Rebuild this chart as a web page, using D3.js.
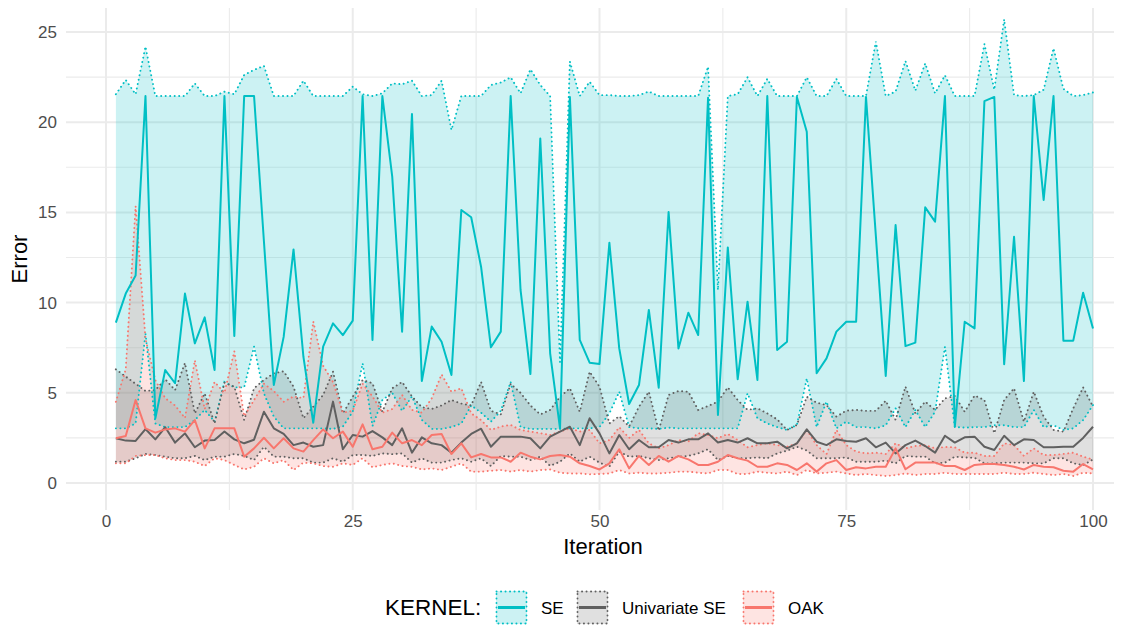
<!DOCTYPE html>
<html>
<head>
<meta charset="utf-8">
<script src="https://cdn.jsdelivr.net/npm/d3@7"></script>
<style>
  body { margin: 0; background: #fff; }
  text { font-family: "Liberation Sans", Arial, sans-serif; }
</style>
</head>
<body>
<script>
// iterations 1..100
var iterations = d3.range(1, 101);

// SE kernel
var seMean = [8.89,10.5,11.5,21.45,3.58,6.26,5.53,10.5,7.74,9.18,6.26,21.45,8.15,21.45,21.45,13.4,5.43,8.1,12.95,7.0,
  3.34,7.56,8.85,8.2,9.0,21.45,7.93,21.45,16.98,8.39,20.45,5.65,8.67,7.83,5.99,15.13,14.73,11.99,7.52,8.39,
  21.45,10.7,6.04,19.1,7.19,3.03,21.4,7.93,6.67,6.6,13.32,7.46,4.38,5.43,9.59,5.28,15.02,7.46,9.44,8.2,
  21.36,3.77,13.06,5.75,10.05,5.71,21.45,7.37,7.83,21.4,19.47,6.08,6.91,8.39,8.94,8.94,21.4,13.7,5.93,14.3,
  7.59,7.78,15.28,14.49,21.45,3.12,8.94,8.57,21.17,21.4,6.58,13.65,5.65,21.45,15.69,21.45,7.89,7.89,10.55,8.57];
var seLower = [3.03,3.03,3.3,8.3,3.3,3.1,3.1,3.1,3.49,4.05,3.4,5.6,5.3,5.3,7.56,4.97,3.68,3.03,3.03,3.03,
  3.03,3.03,3.0,3.13,3.95,6.63,3.16,4.6,5.0,4.0,4.8,3.5,3.0,3.0,3.1,3.3,4.3,3.9,3.4,4.0,
  5.6,3.1,3.0,3.0,3.0,3.0,3.03,3.03,3.03,3.1,3.86,5.06,3.1,3.03,3.03,3.0,3.07,3.03,3.03,3.03,
  3.03,3.03,3.03,3.03,4.97,3.59,3.3,3.1,2.94,3.22,5.8,3.1,4.51,3.03,3.4,3.1,3.1,3.03,3.2,4.14,
  3.1,4.05,3.1,3.95,7.55,3.1,3.07,3.1,3.1,3.2,3.2,3.1,3.1,4.05,3.1,3.2,2.94,3.03,3.49,4.32];
var seUpper = [21.55,22.34,21.55,24.19,21.45,21.45,21.45,21.45,22.15,21.45,21.45,21.69,21.55,22.62,22.9,23.12,21.45,21.45,21.45,22.3,
  21.45,21.45,21.45,21.45,21.97,21.55,21.45,21.6,22.15,22.1,22.3,21.45,21.5,22.3,19.57,21.45,21.45,21.45,22.06,22.2,
  22.49,21.6,22.93,22.06,21.45,6.7,23.36,21.45,22.24,21.5,21.5,21.45,21.45,21.5,21.7,21.45,21.45,21.45,21.45,21.45,
  23.08,10.7,21.45,21.55,22.49,21.45,22.4,21.45,21.45,21.45,22.49,21.45,21.45,22.4,21.45,21.45,21.45,24.47,21.45,21.7,
  23.39,21.75,23.26,21.6,22.6,21.45,21.45,21.45,24.33,21.8,25.7,21.5,21.45,21.5,21.8,24.1,21.85,21.45,21.5,21.65];

// Univariate SE kernel
var uniMean = [2.48,2.35,2.33,2.99,2.42,3.09,2.24,2.75,1.98,2.35,2.38,2.85,2.42,2.2,2.4,3.95,3.03,2.72,2.1,2.24,
  2.01,2.1,4.51,1.87,2.66,2.57,2.88,2.53,2.1,3.03,1.68,2.53,2.2,2.1,1.68,2.24,2.72,3.01,2.01,2.57,
  2.57,2.57,2.48,1.92,2.57,2.85,3.12,2.1,3.59,2.75,1.64,2.66,1.87,2.38,1.98,1.98,2.38,2.24,2.42,2.42,
  2.75,2.24,2.38,2.24,2.48,2.2,2.2,2.29,1.92,2.2,2.97,2.29,2.1,2.42,2.33,2.29,2.48,1.98,2.24,1.64,
  2.1,2.35,2.05,1.68,2.62,2.24,2.53,2.57,2.01,1.83,2.62,2.1,2.42,2.38,1.98,1.98,2.01,2.01,2.5,3.12];
var uniLower = [1.18,1.18,1.37,1.61,1.55,1.46,1.37,1.37,1.5,1.27,1.46,1.46,1.61,1.5,1.27,2.01,1.46,1.46,1.37,1.37,
  1.13,1.13,1.37,1.18,1.55,1.55,1.5,1.64,1.6,1.64,1.13,1.37,1.13,1.13,1.27,1.37,1.18,1.37,0.94,1.5,
  1.46,1.46,1.27,1.46,0.95,1.18,1.64,1.18,1.46,1.13,0.9,1.74,1.46,1.5,1.37,1.27,1.37,1.46,1.5,1.64,
  1.87,1.27,1.5,1.37,1.37,1.42,1.37,1.64,1.79,2.01,1.8,1.37,1.37,1.37,1.42,1.18,1.18,1.18,1.24,1.09,
  1.5,1.46,1.46,1.09,1.13,1.46,1.42,1.4,1.09,1.09,1.13,1.13,1.13,1.09,1.09,1.37,1.37,1.09,0.99,1.31];
var uniUpper = [6.3,5.9,5.5,5.1,5.15,5.75,5.15,6.65,3.86,4.97,3.3,5.56,5.34,3.49,5.25,5.71,6.08,6.19,5.34,3.59,
  4.23,4.88,6.17,3.86,4.78,5.71,5.53,3.95,5.25,5.6,4.8,4.2,4.1,4.3,4.6,4.4,4.3,5.6,4.0,3.8,
  5.5,5.0,4.3,3.8,4.05,4.78,5.25,3.95,6.17,5.34,3.3,3.7,3.13,4.23,5.06,2.9,4.88,5.1,5.06,4.05,
  4.27,4.51,5.3,4.6,4.05,4.14,3.86,3.53,2.94,3.22,4.78,4.45,4.32,3.68,4.01,4.05,4.0,4.0,4.56,3.5,
  5.34,3.86,4.51,4.05,4.69,4.82,3.95,4.85,4.6,2.76,4.6,5.25,3.4,5.06,3.68,2.94,2.85,4.14,5.3,4.23];

// OAK kernel
var oakMean = [2.48,2.6,4.6,3.03,2.79,2.97,3.03,2.85,3.49,1.92,3.03,3.03,3.03,1.46,1.92,2.51,1.92,2.48,1.92,1.74,
  2.38,2.97,2.48,2.85,2.01,3.25,1.87,2.01,2.79,2.2,2.38,2.1,2.66,2.72,1.61,2.2,1.42,1.61,1.42,1.42,
  1.18,1.68,1.46,1.31,1.5,1.55,1.46,1.09,0.94,0.75,1.09,1.87,0.81,1.5,1.0,1.5,1.18,1.5,1.31,1.0,
  1.0,1.18,1.55,1.37,1.24,0.9,0.9,1.09,1.0,0.72,1.09,0.63,1.09,1.27,0.72,0.87,0.81,0.9,0.9,1.92,
  0.76,1.13,1.13,1.13,0.94,0.94,0.72,1.0,1.05,1.05,1.0,0.9,0.75,1.0,0.9,0.87,0.68,0.63,1.05,0.76];
var oakLower = [1.09,1.09,1.5,1.55,1.55,1.37,1.27,1.27,1.18,0.94,1.37,1.27,1.0,0.75,0.9,1.37,1.09,1.27,0.72,1.13,
  1.09,0.94,0.9,1.09,1.0,1.37,0.87,1.0,1.09,0.94,0.9,0.75,0.81,0.72,0.9,1.09,0.63,0.63,0.68,0.72,
  0.63,0.72,0.63,0.72,0.75,0.57,0.53,0.53,0.48,0.5,0.53,0.72,0.53,0.57,0.53,0.53,0.57,0.63,0.63,0.57,
  0.53,0.72,0.72,0.5,0.5,0.63,0.57,0.53,0.63,0.44,0.72,0.53,0.57,0.63,0.53,0.44,0.5,0.44,0.39,0.44,
  0.53,0.44,0.5,0.5,0.57,0.5,0.5,0.5,0.5,0.5,0.57,0.5,0.5,0.57,0.5,0.44,0.5,0.39,0.57,0.53];
var oakUpper = [4.5,6.3,15.35,8.0,5.7,4.7,4.3,3.6,6.8,4.1,5.6,5.0,7.3,3.7,4.6,5.5,5.1,4.5,4.8,4.7,
  8.95,6.5,5.6,3.9,4.0,5.5,4.8,3.9,4.1,4.88,4.05,3.9,4.69,6.02,5.06,5.25,3.86,3.49,2.94,3.13,
  3.22,2.94,2.85,2.76,2.66,2.85,3.03,2.85,2.94,2.2,2.38,3.09,2.5,2.94,2.2,1.92,2.1,2.38,2.3,2.76,
  2.66,2.48,2.72,2.38,1.98,2.1,2.2,2.1,2.01,2.2,2.94,2.1,1.6,2.94,2.1,1.74,1.64,1.68,1.61,2.2,
  1.92,2.05,2.1,1.92,2.0,1.98,1.68,1.68,1.5,1.5,2.2,2.1,1.5,1.92,1.55,1.55,1.61,1.68,1.46,1.3];

var kernels = ["SE", "Univariate SE", "OAK"];
var yTicks = [0, 5, 10, 15, 20, 25];
var xTicks = [0, 25, 50, 75, 100];

var series = [
  {name: "SE", mean: seMean, lower: seLower, upper: seUpper, color: "#00BFC4", fill: "rgba(0,191,196,0.2)"},
  {name: "Univariate SE", mean: uniMean, lower: uniLower, upper: uniUpper, color: "#606060", fill: "rgba(102,102,102,0.2)"},
  {name: "OAK", mean: oakMean, lower: oakLower, upper: oakUpper, color: "#F8766D", fill: "rgba(248,118,109,0.2)"}
];

var width = 1137, height = 626;
var panel = {left: 66, right: 1114, top: 8, bottom: 510};

var svg = d3.select("body").append("svg")
  .attr("width", width).attr("height", height);
svg.append("rect").attr("width", width).attr("height", height).attr("fill", "#fff");

var x = d3.scaleLinear().domain([0, 100]).range([106, 1093]);
var y = d3.scaleLinear().domain([0, 25]).range([483, 32]);

// grid
var grid = svg.append("g");
[2.5, 7.5, 12.5, 17.5, 22.5].forEach(function (v) {
  grid.append("line").attr("x1", panel.left).attr("x2", panel.right)
    .attr("y1", y(v)).attr("y2", y(v)).attr("stroke", "#EBEBEB").attr("stroke-width", 1.1);
});
[12.5, 37.5, 62.5, 87.5].forEach(function (v) {
  grid.append("line").attr("y1", panel.top).attr("y2", panel.bottom)
    .attr("x1", x(v)).attr("x2", x(v)).attr("stroke", "#EBEBEB").attr("stroke-width", 1.1);
});
yTicks.forEach(function (v) {
  grid.append("line").attr("x1", panel.left).attr("x2", panel.right)
    .attr("y1", y(v)).attr("y2", y(v)).attr("stroke", "#EBEBEB").attr("stroke-width", 2);
});
xTicks.forEach(function (v) {
  grid.append("line").attr("y1", panel.top).attr("y2", panel.bottom)
    .attr("x1", x(v)).attr("x2", x(v)).attr("stroke", "#EBEBEB").attr("stroke-width", 2);
});

// ribbons
var area = function (s) {
  return d3.area()
    .x(function (d, i) { return x(iterations[i]); })
    .y0(function (d, i) { return y(s.lower[i]); })
    .y1(function (d, i) { return y(s.upper[i]); });
};
var edge = function (arr) {
  return d3.line()
    .x(function (d, i) { return x(iterations[i]); })
    .y(function (d) { return y(d); })(arr);
};

series.forEach(function (s) {
  svg.append("path").attr("d", area(s)(s.mean)).attr("fill", s.fill);
});
series.forEach(function (s) {
  [s.upper, s.lower].forEach(function (arr) {
    svg.append("path").attr("d", edge(arr))
      .attr("fill", "none").attr("stroke", s.color)
      .attr("stroke-width", 1.9)
      .attr("stroke-linecap", "round")
      .attr("stroke-dasharray", "0.1,4.4");
  });
});
series.forEach(function (s) {
  svg.append("path").attr("d", edge(s.mean))
    .attr("fill", "none").attr("stroke", s.color)
    .attr("stroke-width", 2).attr("stroke-linejoin", "round");
});

// axes
var yAxis = svg.append("g")
  .attr("transform", "translate(" + panel.left + ",0)")
  .call(d3.axisLeft(y).tickValues(yTicks).tickSize(0).tickPadding(9));
yAxis.select(".domain").remove();
yAxis.selectAll("text").attr("font-size", 17).attr("fill", "#4D4D4D")
  .attr("font-family", "Liberation Sans, Arial, sans-serif");

var xAxis = svg.append("g")
  .attr("transform", "translate(0," + panel.bottom + ")")
  .call(d3.axisBottom(x).tickValues(xTicks).tickSize(0).tickPadding(5));
xAxis.select(".domain").remove();
xAxis.selectAll("text").attr("font-size", 17).attr("fill", "#4D4D4D")
  .attr("font-family", "Liberation Sans, Arial, sans-serif");

svg.append("text").attr("x", 603).attr("y", 554)
  .attr("text-anchor", "middle").attr("font-size", 22).attr("fill", "#000")
  .text("Iteration");
svg.append("text").attr("transform", "translate(27," + ((panel.top + panel.bottom) / 2) + ") rotate(-90)")
  .attr("text-anchor", "middle").attr("font-size", 22).attr("fill", "#000")
  .text("Error");

// legend
var legend = svg.append("g");
legend.append("text").attr("x", 385).attr("y", 615).attr("font-size", 22.5)
  .attr("fill", "#000").text("KERNEL:");
var keyX = [496, 577, 743];
series.forEach(function (s, i) {
  var g = legend.append("g").attr("transform", "translate(" + keyX[i] + ",591)");
  g.append("rect").attr("width", 31).attr("height", 33).attr("fill", s.fill);
  g.append("rect").attr("x", 0.5).attr("y", 0.5).attr("width", 30).attr("height", 32)
    .attr("fill", "none").attr("stroke", s.color).attr("stroke-width", 1.9)
    .attr("stroke-linecap", "round").attr("stroke-dasharray", "0.1,4.4");
  g.append("line").attr("x1", 2).attr("x2", 29).attr("y1", 16.5).attr("y2", 16.5)
    .attr("stroke", s.color).attr("stroke-width", 3);
  g.append("text").attr("x", 45).attr("y", 22.5).attr("font-size", 17).attr("fill", "#000")
    .text(kernels[i]);
});
</script>
</body>
</html>
